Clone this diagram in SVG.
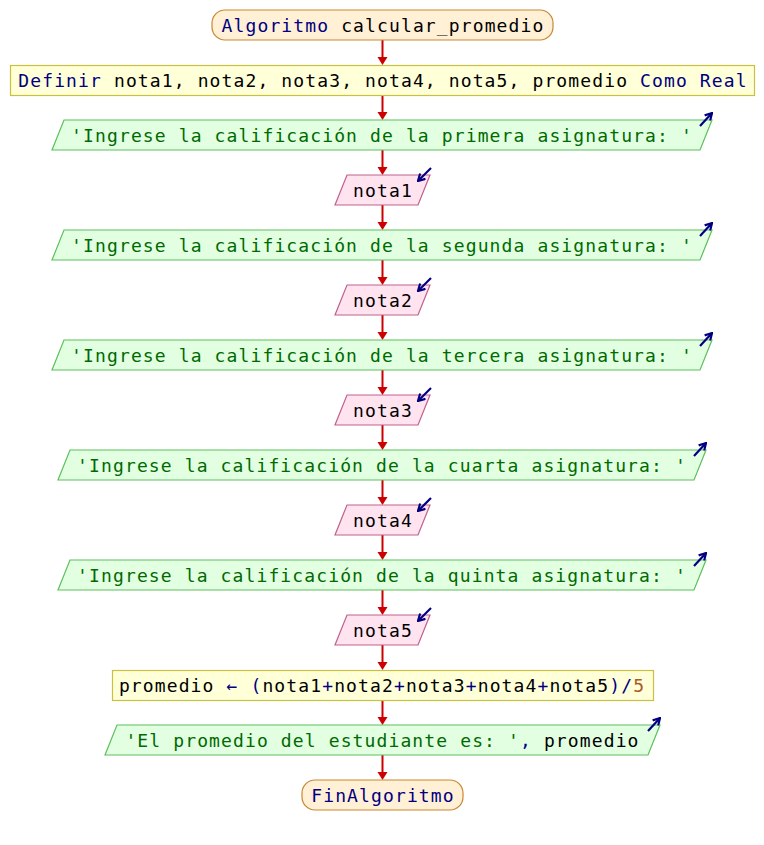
<svg xmlns="http://www.w3.org/2000/svg" width="764" height="845" viewBox="0 0 764 845">
<style>
text{font-family:"DejaVu Sans Mono","Liberation Mono",monospace;font-size:18px;letter-spacing:1.12px;text-anchor:middle;fill:#000}
.kw{fill:#000080}
.str{fill:#006a00}
.num{fill:#a85a28}
.term{fill:#fff0d6;stroke:#c88830;stroke-width:1.2}
.proc{fill:#ffffd8;stroke:#c8c040;stroke-width:1.2}
.out{fill:#e2ffe2;stroke:#5cc05c;stroke-width:1.2}
.in{fill:#ffe4f0;stroke:#c0608e;stroke-width:1.2}
.icon{stroke:#000080;stroke-width:2.2;fill:none;marker-end:url(#io)}
.conn line{stroke:#cc0000;stroke-width:2}
.conn path{fill:#cc0000}
</style>
<defs>
<marker id="io" viewBox="0 0 10 10" refX="8.5" refY="5" markerWidth="9" markerHeight="9" orient="auto" markerUnits="userSpaceOnUse">
<polyline points="1,0.8 8.5,5 1,9.2" fill="none" stroke="#000080" stroke-width="2.4"/>
</marker>
</defs>
<rect width="764" height="845" fill="#fff"/>
<g id="connectors" class="conn">
<line x1="382.5" y1="40" x2="382.5" y2="58"/><path d="M377.5 57 L387.5 57 L382.5 65 Z"/>
<line x1="382.5" y1="95" x2="382.5" y2="113"/><path d="M377.5 112 L387.5 112 L382.5 120 Z"/>
<line x1="382.5" y1="150" x2="382.5" y2="168"/><path d="M377.5 167 L387.5 167 L382.5 175 Z"/>
<line x1="382.5" y1="205" x2="382.5" y2="223"/><path d="M377.5 222 L387.5 222 L382.5 230 Z"/>
<line x1="382.5" y1="260" x2="382.5" y2="278"/><path d="M377.5 277 L387.5 277 L382.5 285 Z"/>
<line x1="382.5" y1="315" x2="382.5" y2="333"/><path d="M377.5 332 L387.5 332 L382.5 340 Z"/>
<line x1="382.5" y1="370" x2="382.5" y2="388"/><path d="M377.5 387 L387.5 387 L382.5 395 Z"/>
<line x1="382.5" y1="425" x2="382.5" y2="443"/><path d="M377.5 442 L387.5 442 L382.5 450 Z"/>
<line x1="382.5" y1="480" x2="382.5" y2="498"/><path d="M377.5 497 L387.5 497 L382.5 505 Z"/>
<line x1="382.5" y1="535" x2="382.5" y2="553"/><path d="M377.5 552 L387.5 552 L382.5 560 Z"/>
<line x1="382.5" y1="590" x2="382.5" y2="608"/><path d="M377.5 607 L387.5 607 L382.5 615 Z"/>
<line x1="382.5" y1="645" x2="382.5" y2="663"/><path d="M377.5 662 L387.5 662 L382.5 670 Z"/>
<line x1="382.5" y1="700" x2="382.5" y2="718"/><path d="M377.5 717 L387.5 717 L382.5 725 Z"/>
<line x1="382.5" y1="755" x2="382.5" y2="773"/><path d="M377.5 772 L387.5 772 L382.5 780 Z"/>
</g>
<g id="start">
<rect class="term" x="212" y="10" width="341" height="30" rx="13"/>
<text x="383" y="32"><tspan class="kw">Algoritmo</tspan> calcular_promedio</text>
</g>
<g id="define">
<rect class="proc" x="10.5" y="65.5" width="744" height="30"/>
<text x="383" y="87"><tspan class="kw">Definir</tspan> nota1, nota2, nota3, nota4, nota5, promedio <tspan class="kw">Como Real</tspan></text>
</g>
<g id="out1">
<polygon class="out" points="64,120 712,120 700,150 52,150"/>
<text class="str" x="382" y="142">'Ingrese la calificación de la primera asignatura: '</text>
<line class="icon" x1="700" y1="126" x2="712" y2="113"/>
</g>
<g id="in1">
<polygon class="in" points="347,175 430,175 418,205 335,205"/>
<text x="383" y="197">nota1</text>
<line class="icon" x1="431" y1="168" x2="418" y2="181"/>
</g>
<g id="out2">
<polygon class="out" points="64,230 712,230 700,260 52,260"/>
<text class="str" x="382" y="252">'Ingrese la calificación de la segunda asignatura: '</text>
<line class="icon" x1="700" y1="236" x2="712" y2="223"/>
</g>
<g id="in2">
<polygon class="in" points="347,285 430,285 418,315 335,315"/>
<text x="383" y="307">nota2</text>
<line class="icon" x1="431" y1="278" x2="418" y2="291"/>
</g>
<g id="out3">
<polygon class="out" points="64,340 712,340 700,370 52,370"/>
<text class="str" x="382" y="362">'Ingrese la calificación de la tercera asignatura: '</text>
<line class="icon" x1="700" y1="346" x2="712" y2="333"/>
</g>
<g id="in3">
<polygon class="in" points="347,395 430,395 418,425 335,425"/>
<text x="383" y="417">nota3</text>
<line class="icon" x1="431" y1="388" x2="418" y2="401"/>
</g>
<g id="out4">
<polygon class="out" points="70,450 706,450 694,480 58,480"/>
<text class="str" x="382" y="472">'Ingrese la calificación de la cuarta asignatura: '</text>
<line class="icon" x1="694" y1="456" x2="706" y2="443"/>
</g>
<g id="in4">
<polygon class="in" points="347,505 430,505 418,535 335,535"/>
<text x="383" y="527">nota4</text>
<line class="icon" x1="431" y1="498" x2="418" y2="511"/>
</g>
<g id="out5">
<polygon class="out" points="70,560 706,560 694,590 58,590"/>
<text class="str" x="382" y="582">'Ingrese la calificación de la quinta asignatura: '</text>
<line class="icon" x1="694" y1="566" x2="706" y2="553"/>
</g>
<g id="in5">
<polygon class="in" points="347,615 430,615 418,645 335,645"/>
<text x="383" y="637">nota5</text>
<line class="icon" x1="431" y1="608" x2="418" y2="621"/>
</g>
<g id="assign">
<rect class="proc" x="112.5" y="670.5" width="541" height="30"/>
<text x="382" y="692">promedio <tspan class="kw">← (</tspan>nota1<tspan class="kw">+</tspan>nota2<tspan class="kw">+</tspan>nota3<tspan class="kw">+</tspan>nota4<tspan class="kw">+</tspan>nota5<tspan class="kw">)/</tspan><tspan class="num">5</tspan></text>
</g>
<g id="out6">
<polygon class="out" points="117,725 660,725 648,755 105,755"/>
<text x="382.5" y="747"><tspan class="str">'El promedio del estudiante es: '</tspan><tspan class="kw">,</tspan> promedio</text>
<line class="icon" x1="648" y1="731" x2="660" y2="718"/>
</g>
<g id="end">
<rect class="term" x="302" y="780" width="161" height="30" rx="13"/>
<text class="kw" x="383" y="802">FinAlgoritmo</text>
</g>
</svg>
